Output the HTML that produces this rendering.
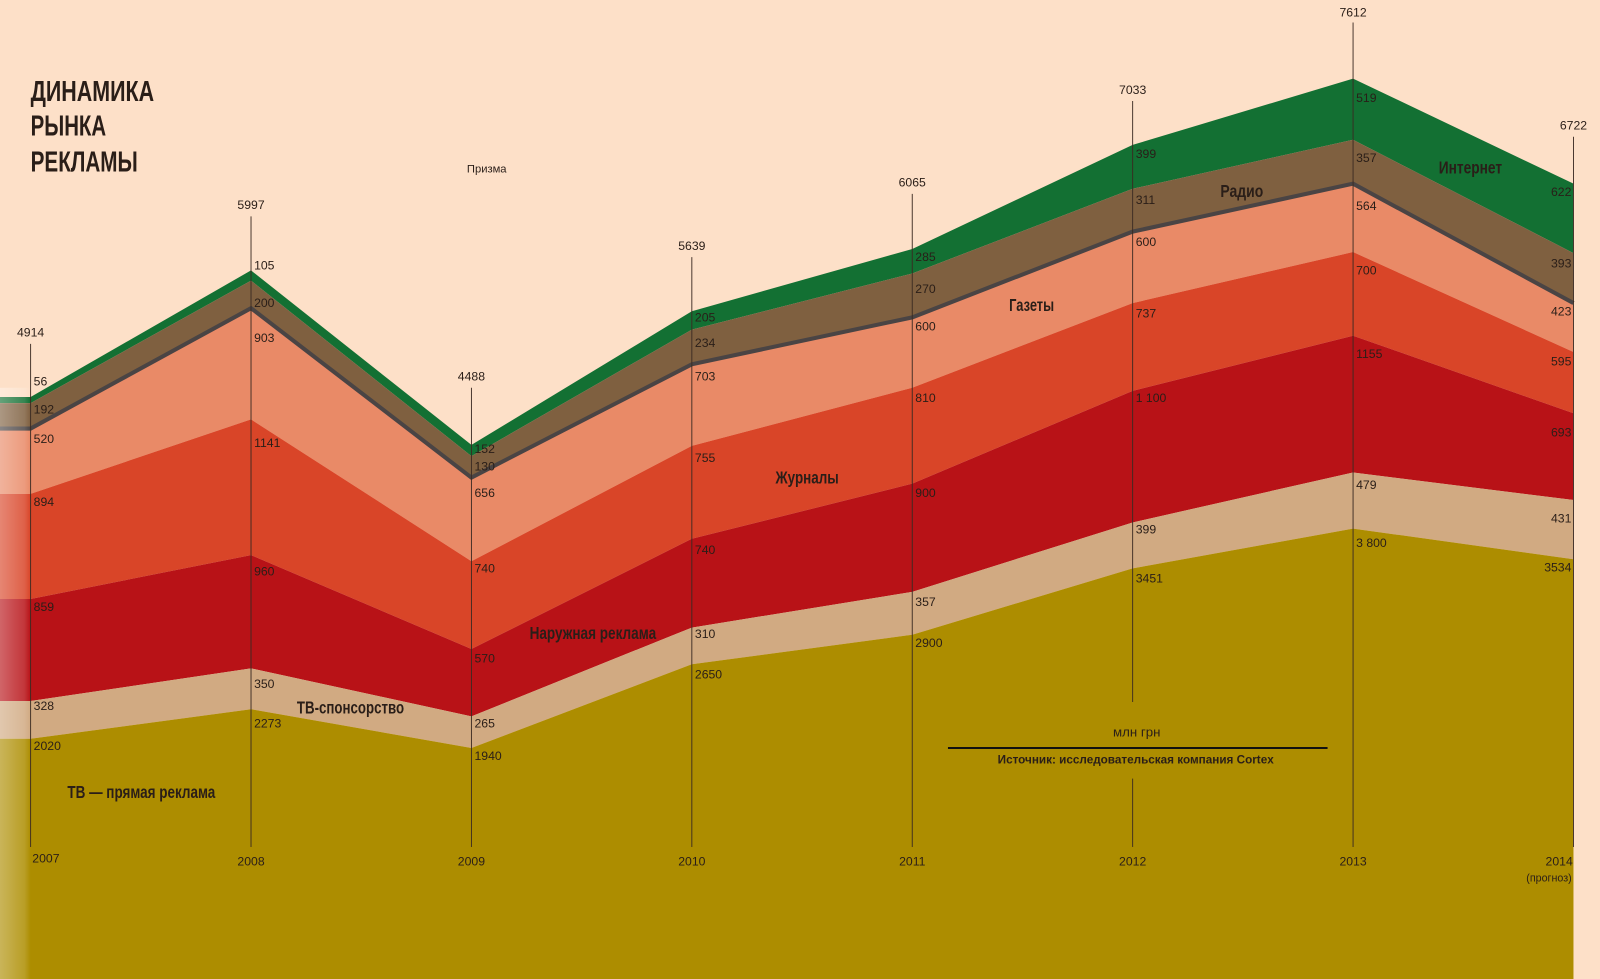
<!DOCTYPE html>
<html><head><meta charset="utf-8"><style>
html,body{margin:0;padding:0;background:#fde0c8;overflow:hidden}
svg{display:block}
text{font-family:"Liberation Sans Narrow","Liberation Sans",sans-serif;fill:#2a1e18}
.v{font-size:12px}
.l{font-size:17px;font-weight:bold;fill:#231812}
</style></head><body>
<svg width="1600" height="979" viewBox="0 0 1568 959.4" preserveAspectRatio="none" xmlns="http://www.w3.org/2000/svg">
<defs><linearGradient id="lg" x1="0" x2="1" y1="0" y2="0"><stop offset="0" stop-color="#fff" stop-opacity="0.35"/><stop offset="0.8" stop-color="#fff" stop-opacity="0.15"/><stop offset="1" stop-color="#fff" stop-opacity="0"/></linearGradient></defs>
<rect width="1568" height="960" fill="#fde0c8"/>
<polygon fill="#137033" points="0,389 30,389 246,265 462,436 678,305 894,244 1110,142 1326,77 1542,180 1542,248 1326,137 1110,185 894,268 678,323 462,447 246,275 30,395 0,395"/>
<polygon fill="#7f6040" points="0,395 30,395 246,275 462,447 678,323 894,268 1110,185 1326,137 1542,248 1542,297 1326,180 1110,227 894,311 678,357 462,468 246,302 30,420 0,420"/>
<polygon fill="#e98a67" points="0,420 30,420 246,302 462,468 678,357 894,311 1110,227 1326,180 1542,297 1542,345 1326,247 1110,297 894,380 678,437 462,550 246,411 30,484 0,484"/>
<polygon fill="#d94528" points="0,484 30,484 246,411 462,550 678,437 894,380 1110,297 1326,247 1542,345 1542,405 1326,329 1110,383 894,474 678,528 462,636 246,544 30,587 0,587"/>
<polygon fill="#b81217" points="0,587 30,587 246,544 462,636 678,528 894,474 1110,383 1326,329 1542,405 1542,490 1326,463 1110,512 894,580 678,615 462,702 246,655 30,687 0,687"/>
<polygon fill="#d1aa82" points="0,687 30,687 246,655 462,702 678,615 894,580 1110,512 1326,463 1542,490 1542,548 1326,518 1110,557 894,622 678,651 462,733 246,695 30,724 0,724"/>
<polygon fill="#ad8d00" points="0,724 30,724 246,695 462,733 678,651 894,622 1110,557 1326,518 1542,548 1542,960 0,960"/>
<polyline fill="none" stroke="#4a4444" stroke-width="4" points="0,420 30,420 246,302 462,468 678,357 894,311 1110,227 1326,180 1542,297"/>
<rect x="0" y="380" width="30" height="580" fill="url(#lg)"/>
<g stroke="#3a2a22" stroke-width="0.9">
<line x1="30" y1="337" x2="30" y2="830"/><line x1="246" y1="212" x2="246" y2="830"/><line x1="462" y1="380" x2="462" y2="830"/><line x1="678" y1="252" x2="678" y2="830"/><line x1="894" y1="190" x2="894" y2="830"/><line x1="1110" y1="99" x2="1110" y2="688"/><line x1="1110" y1="763" x2="1110" y2="830"/><line x1="1326" y1="22" x2="1326" y2="830"/><line x1="1542" y1="134" x2="1542" y2="830"/>
<line x1="929" y1="733" x2="1301" y2="733" stroke-width="2" stroke="#111"/>
</g>
<g class="v" text-anchor="middle">
<text x="30" y="330">4914</text><text x="246" y="205">5997</text><text x="462" y="373">4488</text><text x="678" y="245">5639</text><text x="894" y="183">6065</text><text x="1110" y="92">7033</text><text x="1326" y="16">7612</text><text x="1542" y="127">6722</text>
<text x="45" y="845">2007</text><text x="246" y="848">2008</text><text x="462" y="848">2009</text><text x="678" y="848">2010</text><text x="894" y="848">2011</text><text x="1110" y="848">2012</text><text x="1326" y="848">2013</text><text x="1528" y="848">2014</text><text x="1518" y="864" style="font-size:10.5px">(прогноз)</text>
<text x="477" y="169" style="font-size:11px">Призма</text>
</g>
<g class="v">
<text x="33" y="378">56</text><text x="33" y="405">192</text><text x="33" y="434">520</text><text x="33" y="496">894</text><text x="33" y="599">859</text><text x="33" y="696">328</text><text x="33" y="735">2020</text>
<text x="249" y="264">105</text><text x="249" y="301">200</text><text x="249" y="335">903</text><text x="249" y="438">1141</text><text x="249" y="564">960</text><text x="249" y="674">350</text><text x="249" y="713">2273</text>
<text x="465" y="444">152</text><text x="465" y="461">130</text><text x="465" y="487">656</text><text x="465" y="561">740</text><text x="465" y="649">570</text><text x="465" y="713">265</text><text x="465" y="745">1940</text>
<text x="681" y="315">205</text><text x="681" y="340">234</text><text x="681" y="373">703</text><text x="681" y="453">755</text><text x="681" y="543">740</text><text x="681" y="625">310</text><text x="681" y="665">2650</text>
<text x="897" y="256">285</text><text x="897" y="287">270</text><text x="897" y="324">600</text><text x="897" y="394">810</text><text x="897" y="487">900</text><text x="897" y="594">357</text><text x="897" y="634">2900</text>
<text x="1113" y="155">399</text><text x="1113" y="200">311</text><text x="1113" y="241">600</text><text x="1113" y="311">737</text><text x="1113" y="394">1 100</text><text x="1113" y="523">399</text><text x="1113" y="571">3451</text>
<text x="1329" y="100">519</text><text x="1329" y="159">357</text><text x="1329" y="206">564</text><text x="1329" y="269">700</text><text x="1329" y="351">1155</text><text x="1329" y="479">479</text><text x="1329" y="536">3 800</text>
</g>
<g class="v" text-anchor="end">
<text x="1540" y="192">622</text><text x="1540" y="262">393</text><text x="1540" y="309">423</text><text x="1540" y="358">595</text><text x="1540" y="428">693</text><text x="1540" y="512">431</text><text x="1540" y="560">3534</text>
</g>
<g class="l">
<text x="1410" y="170" textLength="62" lengthAdjust="spacingAndGlyphs">Интернет</text>
<text x="1196" y="193" textLength="42" lengthAdjust="spacingAndGlyphs">Радио</text>
<text x="989" y="305" textLength="44" lengthAdjust="spacingAndGlyphs">Газеты</text>
<text x="760" y="474" textLength="62" lengthAdjust="spacingAndGlyphs">Журналы</text>
<text x="519" y="626" textLength="124" lengthAdjust="spacingAndGlyphs">Наружная реклама</text>
<text x="291" y="699" textLength="105" lengthAdjust="spacingAndGlyphs">ТВ-спонсорство</text>
<text x="66" y="782" textLength="145" lengthAdjust="spacingAndGlyphs">ТВ — прямая реклама</text>
</g>
<g style="font-size:28px;font-weight:bold">
<text x="30" y="99" textLength="121" lengthAdjust="spacingAndGlyphs">ДИНАМИКА</text>
<text x="30" y="133" textLength="74" lengthAdjust="spacingAndGlyphs">РЫНКА</text>
<text x="30" y="168" textLength="105" lengthAdjust="spacingAndGlyphs">РЕКЛАМЫ</text>
</g>
<text x="1114" y="722" text-anchor="middle" style="font-family:'Liberation Sans',sans-serif;font-size:13px">млн грн</text>
<text x="1113" y="748" text-anchor="middle" style="font-family:'Liberation Sans',sans-serif;font-size:11.5px;font-weight:bold">Источник: исследовательская компания Cortex</text>
</svg>
</body></html>
